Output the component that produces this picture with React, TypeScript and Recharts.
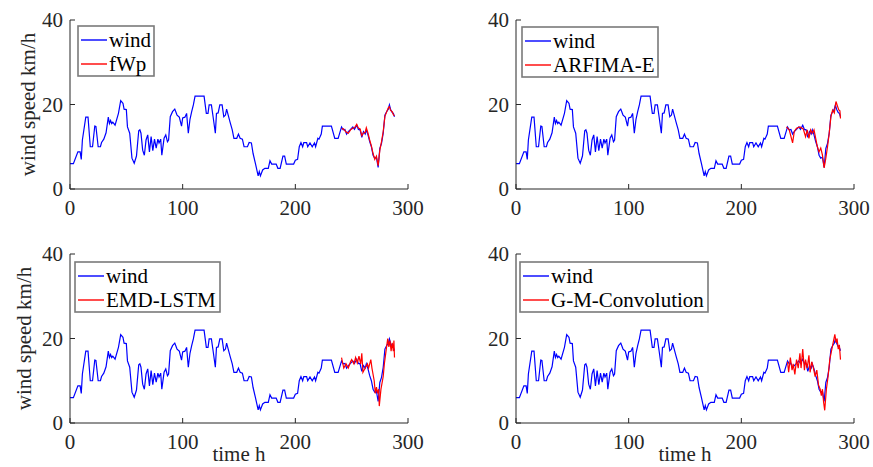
import { Line, LineChart, XAxis, YAxis } from 'recharts'

// measured wind speed (km/h), same in all four panels
const windHours = [
  0, 3, 7, 9, 10, 11, 14, 16, 18, 20, 22, 23, 25, 27, 28, 30, 32, 34, 35, 36, 37, 38, 40, 43, 45, 47, 48, 50,
  51, 53, 55, 57, 59, 61, 62, 63, 64.5, 66, 67.5, 69, 70.5, 72, 73.5, 75, 76.5, 78, 79, 80.5, 81.5, 83.5, 85,
  86.5, 87.5, 89, 91, 93, 95, 97, 99, 100, 102, 103.5, 105, 106.5, 108, 109.5, 111, 119, 121, 122.5, 123.5,
  125.5, 127, 129, 130, 131.5, 133, 135, 136.5, 138, 139, 140, 142, 144, 145.5, 148, 149.5, 151, 153, 154.5,
  157.5, 159, 161, 162.5, 164.5, 167, 168, 169, 171, 173, 176, 177.5, 179, 183, 184.5, 186.5, 189, 190.5, 192,
  198.5, 200, 202, 203.5, 205, 206.5, 207.5, 210, 211, 213, 215, 217, 218, 220, 221, 223, 224, 232, 235, 238,
  241, 242.5, 244, 245.5, 247, 249, 251, 252.5, 254.5, 256, 257.5, 259, 260.5, 262, 263, 264.5, 266, 267.5,
  269, 270.5, 272, 273.5, 275, 276.5, 278, 279.5, 281, 282.5, 283.5, 284.5, 286, 287, 288,
]
const windSpeed = [
  6, 6, 8.8, 8.8, 7, 11.6, 17, 17, 10, 10, 14.9, 14.8, 10, 10, 11, 11.8, 13.3, 17, 15.5, 16.2, 15.5, 15.8, 15.1,
  17.9, 20.9, 20.3, 18.9, 18.8, 14.7, 13.2, 7.3, 6.1, 7.8, 13.8, 14, 13.2, 9.2, 8, 11.6, 12.8, 8.8, 12.4, 9.1,
  11.8, 9.7, 11.8, 10.9, 11.8, 8, 12, 12.8, 11.2, 11.6, 17.1, 18.3, 18.9, 17.5, 17, 14.9, 16.8, 17, 17.9, 13.2,
  16.5, 18.3, 19.9, 22, 22, 17.9, 17.9, 19.9, 19.9, 17.1, 13.2, 17.9, 18, 19.9, 19.9, 17.1, 17.5, 18.9, 17.9,
  15.9, 14, 12, 12, 13, 12, 11.8, 10, 10, 11, 10.9, 8.4, 6.1, 3.1, 4.1, 3.1, 4.5, 4.9, 4.9, 6.7, 5.9, 5.9, 4.9,
  4.9, 7.8, 7.8, 5.9, 5.9, 6.8, 7, 10, 11, 10, 11, 11, 10, 10.9, 10, 10.9, 10, 12, 11.8, 13, 14.9, 14.9, 12, 12,
  14.7, 14, 14.1, 13, 13.6, 14.1, 14.7, 14.1, 15.1, 14.1, 14, 12.2, 13.6, 13, 14, 12.8, 11.2, 10, 8, 7.3, 7.5,
  5.1, 9.6, 10.8, 13.2, 17.5, 18.3, 18.9, 19.9, 18.9, 18.1, 17.9, 17.1,
]

// forecasts, 241 h onwards
const fwpHours = [
  241, 242.5, 244, 245.5, 247, 249, 251, 252.5, 254.5, 256, 257.5, 259, 260.5, 262, 263, 264.5, 266, 267.5,
  269, 270.5, 272, 273.5, 275, 276.5, 278, 279.5, 281, 282.5, 283.5, 284.5, 286, 287, 288,
]
const fwpSpeed = [
  14.2, 14.3, 13.8, 13.4, 13.2, 14, 14.4, 14.5, 15.3, 14.4, 14.2, 12.6, 13.3, 13.4, 14.5, 13.2, 11.6, 10.2, 8.4,
  7, 7.8, 5.5, 9.2, 11.2, 13.6, 17.2, 18.2, 19.2, 19.5, 18.6, 18.3, 17.6, 17.3,
]

const arfimaHours = [
  240, 242.5, 245.5, 247, 249, 252, 255, 257, 258.5, 260, 261.5, 263, 264.5, 266, 267.5, 269, 270.5, 272,
  273.5, 275, 276.5, 278, 279.5, 281, 282.5, 284, 285.5, 286.5, 287.5, 288,
]
const arfimaSpeed = [
  14.7, 14, 10.9, 13.6, 14.4, 14.7, 14.2, 12.4, 14, 12, 14, 13.2, 14, 12, 10, 8.8, 9.7, 8, 5, 7.3, 10, 13.2,
  17.1, 18.7, 18, 20.7, 19.5, 18.7, 18.5, 16.7,
]

const lstmHours = [
  241, 243, 245, 247, 249, 250, 252, 253.5, 255, 256.5, 258, 259, 260, 262, 264, 265, 267, 268, 270, 271, 272,
  273, 274, 274.5, 276, 278, 279, 281, 282, 283, 284, 285, 286, 287, 287.5, 288,
]
const lstmSpeed = [
  15.5, 13, 14, 13, 14.5, 15, 14, 15.5, 14.2, 15.8, 14, 16.5, 12, 13, 14, 13, 15, 13, 10, 7, 8.5, 7, 8, 4, 8,
  11, 14, 18, 20, 18, 19.5, 17, 19, 17, 19.5, 15.5,
]

const convHours = [
  241, 242, 243.5, 245, 246, 247.5, 249, 250.5, 252, 253, 254.5, 256, 257, 258.5, 260, 261, 262.5, 264, 265.5,
  267, 268.5, 270, 271, 272, 273, 274, 275.5, 277, 278.5, 280, 281.5, 283, 284, 285, 286, 287, 288,
]
const convSpeed = [
  14.5, 12, 15.5, 12.5, 14, 11.5, 15, 13, 16.5, 13, 17.5, 12.5, 15, 13, 16, 12, 14.5, 13, 11, 12.5, 9, 8, 6.5,
  8, 5, 3, 8, 11, 15, 17, 19, 21, 19, 20, 17.5, 18.5, 15,
]

const xTicks = [0, 100, 200, 300]
const yTicks = [0, 20, 40]

const axisColor = '#262626'
const serif = '"Liberation Serif", "Times New Roman", Times, serif'

const toPoints = (hours: number[], speed: number[]) => hours.map((t, i) => ({ t, v: speed[i] }))

const wind = toPoints(windHours, windSpeed)

const panels = [
  { name: 'fWp', left: 0, top: 0, data: toPoints(fwpHours, fwpSpeed), legendX: 78, legendY: 26, legendW: 76, yLabelX: 35, timeLabel: false },
  { name: 'ARFIMA-E', left: 446, top: 0, data: toPoints(arfimaHours, arfimaSpeed), legendX: 522, legendY: 27, legendW: 136, yLabelX: 0, timeLabel: false },
  { name: 'EMD-LSTM', left: 0, top: 234, data: toPoints(lstmHours, lstmSpeed), legendX: 75, legendY: 262, legendW: 145, yLabelX: 31, timeLabel: true },
  { name: 'G-M-Convolution', left: 446, top: 234, data: toPoints(convHours, convSpeed), legendX: 520, legendY: 262, legendW: 188, yLabelX: 0, timeLabel: true },
]

type PanelInfo = (typeof panels)[number]

const tickStyle = { fill: axisColor, fontSize: 21, fontFamily: serif }

function Panel({ p }: { p: PanelInfo }) {
  return (
    <div style={{ position: 'absolute', left: p.left, top: p.top }}>
      <LineChart width={426} height={233} margin={{ top: 20, right: 18, bottom: 0, left: 0 }}>
        <XAxis
          xAxisId="b"
          dataKey="t"
          type="number"
          domain={[0, 300]}
          ticks={xTicks}
          height={44}
          stroke={axisColor}
          tickSize={-5}
          tickMargin={16}
          tick={tickStyle}
          label={
            p.timeLabel
              ? () => (
                  <text x={239} y={227} textAnchor="middle" fill={axisColor} fontSize={21} fontFamily={serif}>
                    time h
                  </text>
                )
              : undefined
          }
        />
        <XAxis
          xAxisId="t"
          orientation="top"
          type="number"
          domain={[0, 300]}
          ticks={xTicks}
          height={0}
          stroke={axisColor}
          tickSize={-5}
          tick={false}
        />
        <YAxis
          yAxisId="l"
          type="number"
          domain={[0, 40]}
          ticks={yTicks}
          width={70}
          stroke={axisColor}
          tickSize={-5}
          tickMargin={12}
          tick={tickStyle}
          label={
            p.yLabelX
              ? () => (
                  <text
                    x={p.yLabelX}
                    y={104.5}
                    textAnchor="middle"
                    fill={axisColor}
                    fontSize={21}
                    fontFamily={serif}
                    transform={`rotate(-90, ${p.yLabelX}, 104.5)`}
                  >
                    wind speed km/h
                  </text>
                )
              : undefined
          }
        />
        <YAxis
          yAxisId="r"
          orientation="right"
          type="number"
          domain={[0, 40]}
          ticks={yTicks}
          width={0}
          stroke={axisColor}
          tickSize={-5}
          tick={false}
        />
        <Line
          xAxisId="b"
          yAxisId="l"
          data={wind}
          dataKey="v"
          stroke="#0000ff"
          strokeWidth={1.2}
          dot={false}
          type="linear"
          isAnimationActive={false}
        />
        <Line
          xAxisId="b"
          yAxisId="l"
          data={p.data}
          dataKey="v"
          stroke="#ff0000"
          strokeWidth={1.2}
          dot={false}
          type="linear"
          isAnimationActive={false}
        />
      </LineChart>
    </div>
  )
}

function Legends() {
  return (
    <svg width={873} height={467} style={{ position: 'absolute', left: 0, top: 0, pointerEvents: 'none' }}>
      {panels.map((p) => (
        <g key={p.name}>
          <rect x={p.legendX} y={p.legendY} width={p.legendW} height={50} fill="#fff" stroke="#7a7a7a" strokeWidth={1.6} />
          <line x1={p.legendX + 3} x2={p.legendX + 29} y1={p.legendY + 14} y2={p.legendY + 14} stroke="#0000ff" strokeWidth={1.4} />
          <text x={p.legendX + 31} y={p.legendY + 20.5} fontSize={21} fontFamily={serif} fill="#000">
            wind
          </text>
          <line x1={p.legendX + 3} x2={p.legendX + 29} y1={p.legendY + 38} y2={p.legendY + 38} stroke="#ff0000" strokeWidth={1.4} />
          <text x={p.legendX + 31} y={p.legendY + 44.5} fontSize={21} fontFamily={serif} fill="#000">
            {p.name}
          </text>
        </g>
      ))}
    </svg>
  )
}

export default function App() {
  return (
    <div
      style={{
        position: 'absolute',
        left: 0,
        top: 0,
        width: 873,
        height: 467,
        overflow: 'hidden',
        background: '#fff',
        fontFamily: serif,
      }}
    >
      {panels.map((p) => (
        <Panel key={p.name} p={p} />
      ))}
      <Legends />
    </div>
  )
}
